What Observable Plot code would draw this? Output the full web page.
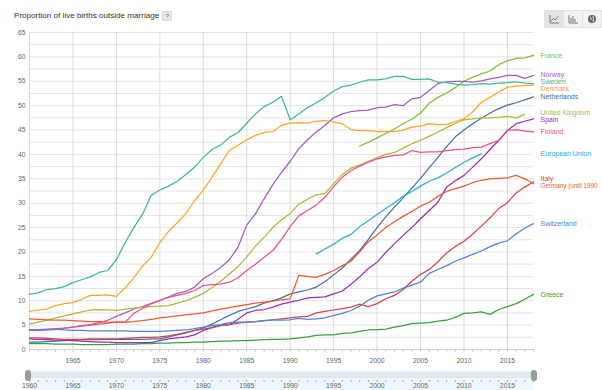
<!DOCTYPE html>
<html><head><meta charset="utf-8">
<script src="https://cdn.jsdelivr.net/npm/d3@7"></script>
<script src="https://cdn.jsdelivr.net/npm/@observablehq/plot@0.6"></script>
<style>
body{margin:0;width:602px;height:390px;position:relative;overflow:hidden;background:#fff;font-family:"Liberation Sans",Arial,sans-serif;}
#title{position:absolute;left:14px;top:11px;font-size:8.1px;color:#333;white-space:nowrap;}
#title .q{display:inline-block;width:8px;height:8px;line-height:8px;text-align:center;background:#e8e8e8;border:1px solid #ddd;color:#666;font-size:6px;margin-left:3px;vertical-align:middle;}
#tools{position:absolute;left:544px;top:10px;display:flex;}
#tools div{width:18px;height:16px;background:#f2f2f2;border:1px solid #e2e2e2;margin-right:-1px;display:flex;align-items:center;justify-content:center;}
#tools div.on{background:#e4e4e4;}
#main{position:absolute;left:0;top:0;}
#navbg{position:absolute;left:29px;top:370px;width:504px;height:20px;background:#eef7fb;}
#navtrack{position:absolute;left:29px;top:372px;width:504px;height:6px;background:#dfe8ec;}
#nav{position:absolute;left:0;top:370px;}
.handle{position:absolute;top:370px;width:6px;height:11px;background:#9a9a9a;border-radius:3px;}
</style></head>
<body>
<div id="title">Proportion of live births outside marriage<span class="q">?</span></div>
<div id="tools">
 <div class="on"><svg width="10" height="9"><path d="M1 0V8H10" stroke="#666" fill="none" stroke-width="0.9"/><path d="M2 6L4.5 3.5L6 5L9 1.5" stroke="#666" fill="none" stroke-width="0.9"/></svg></div>
 <div><svg width="10" height="9"><path d="M1 0V8H10M3 7V3M5 7V1M7 7V4" stroke="#666" fill="none" stroke-width="0.9"/></svg></div>
 <div><svg width="10" height="10"><circle cx="5" cy="5" r="4" fill="#666"/><path d="M3 3Q5 4 4 6M6 2Q7 5 6 8" stroke="#f2f2f2" fill="none" stroke-width="0.9"/></svg></div>
</div>
<div id="main"></div>
<div id="navbg"></div><div id="navtrack"></div>
<div id="nav"></div>
<div class="handle" style="left:25px"></div><div class="handle" style="left:531px"></div>
<script>
// ---- data ----
const countries = ["France","Norway","Sweden","Denmark","Netherlands","United Kingdom","Spain","Finland","European Union","Italy","Germany (until 1990 former territory of the FRG)","Switzerland","Greece"];
const seriesLabels = ["France","Norway","Sweden","Denmark","Netherlands","United Kingdom","Spain","Finland","European Union","Italy","Germany (until 1990","Switzerland","Greece"];
const startYears = [1998,1960,1960,1960,1960,1960,1960,1960,1993,1960,1960,1960,1960];
const france = [41.7,42.5,43.4,44.3,45.2,46.3,47.2,48.5,50.5,51.7,52.6,53.7,55.0,55.8,56.5,57.1,58.4,59.2,59.7,59.8,60.3];
const norway = [3.9,3.9,4.0,4.1,4.4,4.6,4.9,5.1,5.5,6.0, 6.8,7.5,8.3,8.8,9.4,10.0,10.8,11.5,11.9,12.8, 14.5,15.6,16.8,18.4,21.0,25.5,27.8,30.9,33.8,36.3, 38.6,41.2,43.0,44.6,46.0,47.5,48.3,48.8,49.0,49.1, 49.6,49.7,50.2,50.0,51.4,51.7,53.1,54.5,54.9,55.0, 55.0,54.8,55.1,55.5,55.8,56.2,56.2,55.6,56.2];
const sweden = [11.3,11.6,12.3,12.5,12.9,13.7,14.3,14.9,15.8,16.2, 18.4,21.9,25.0,27.7,31.6,32.7,33.5,34.5,35.9,37.4, 39.4,41.0,41.9,43.5,44.5,46.4,48.3,49.8,50.7,51.9, 47.1,48.3,49.6,50.6,51.7,53.0,53.9,54.2,54.8,55.3, 55.3,55.5,56.0,56.0,55.4,55.4,55.5,54.8,54.7,54.4, 54.2,54.3,54.5,54.4,54.6,54.7,54.9,54.6,54.5];
const denmark = [7.8,8.1,8.3,9.0,9.4,9.6,10.3,11.1,11.1,11.2, 10.9,12.6,14.7,17.1,18.9,21.9,24.2,26.0,27.9,30.5, 32.7,35.3,38.1,40.8,41.9,43.0,43.9,44.5,44.7,46.0, 46.4,46.5,46.4,46.8,47.0,46.6,46.3,45.1,44.9,44.9, 44.7,44.7,44.7,45.0,45.6,45.8,46.3,46.1,46.1,46.8, 47.3,48.7,50.7,51.7,52.8,53.8,54.0,54.1,54.2];
const netherlands = [1.5,1.5,1.6,1.7,1.8,1.9,2.0,2.0,2.0,2.1, 2.1,2.1,2.1,2.1,2.2,2.2,2.6,3.0,3.4,3.9, 4.4,5.2,6.1,7.0,7.8,8.3,8.8,9.5,10.0,10.6, 11.4,11.8,12.2,12.8,13.9,15.3,16.7,18.5,20.3,22.6, 25.0,27.2,29.2,31.1,33.1,35.1,37.3,39.4,41.6,43.6, 45.0,46.3,47.4,48.5,49.4,50.1,50.6,51.2,51.8];
const unitedKingdom = [5.2,5.6,6.0,6.5,6.9,7.3,7.7,8.1,8.2,8.1, 8.0,8.3,8.5,8.7,8.8,8.9,9.0,9.5,10.0,10.7, 11.5,12.7,14.0,15.5,17.0,19.0,21.2,23.0,25.0,26.6, 27.9,29.8,30.8,31.7,32.0,34.0,35.9,37.2,37.8,38.6, 39.3,40.0,40.4,41.3,42.2,42.9,43.7,44.6,45.5,46.4, 47.1,47.3,47.5,47.5,47.6,47.8,47.5,48.2];
const spain = [2.2,2.1,2.0,1.9,1.9,1.8,1.7,1.6,1.5,1.5, 1.4,1.4,1.4,1.4,1.4,1.8,2.2,2.4,2.6,3.0, 3.9,4.5,5.0,5.1,6.2,7.5,8.0,8.2,8.7,9.3, 9.7,10.1,10.6,10.7,10.8,11.4,12.0,13.4,14.9,16.6, 17.9,19.9,21.7,23.4,25.0,26.8,28.5,30.2,33.3,34.6, 35.7,37.4,39.1,41.0,42.9,44.9,46.3,46.8,47.3];
const finland = [3.9,4.0,4.1,4.3,4.4,4.6,4.8,5.0,5.2,5.4, 5.6,5.6,7.4,8.4,9.4,10.1,10.7,11.1,11.5,12.1, 13.1,13.3,13.4,13.8,14.7,16.2,17.5,18.9,20.3,22.6, 25.2,27.4,28.5,29.6,31.2,33.4,35.3,36.7,37.6,38.4, 39.1,39.5,39.8,39.9,40.8,40.4,40.5,40.5,40.8,41.0, 41.1,41.4,41.5,42.2,42.9,44.9,45.1,44.8,44.6];
const europeanUnion = [19.6,20.6,21.6,22.8,23.6,25.2,26.4,27.7,28.9,30.1,31.4,32.4,33.5,34.5,35.2,36.2,37.3,38.4,39.3,40.1];
const italy = [2.4,2.4,2.3,2.2,2.1,2.1,2.1,2.2,2.2,2.2, 2.2,2.3,2.4,2.5,2.5,2.6,2.8,3.1,3.5,3.9, 4.2,4.5,4.9,5.1,5.4,5.6,5.7,5.9,6.1,6.3, 6.5,6.7,6.8,7.5,7.8,8.1,8.4,8.7,9.3,8.8, 9.4,10.4,11.1,12.3,14.0,15.4,16.4,18.0,19.8,21.1, 22.2,23.7,25.3,27.0,28.9,30.1,32.1,33.3,34.4];
const germany = [6.3,6.2,6.1,6.0,6.0,5.9,5.8,5.7,5.7,5.6, 5.6,5.6,5.7,5.9,6.2,6.5,6.7,6.9,7.1,7.3, 7.5,7.9,8.3,8.6,8.9,9.2,9.5,9.7,9.9,10.2, 10.4,15.2,15.0,14.8,15.4,16.2,17.2,18.1,20.0,22.1, 23.5,25.0,26.2,27.3,28.3,29.4,30.2,31.4,32.4,33.0, 33.5,34.2,34.7,35.0,35.1,35.2,35.7,35.0,34.0];
const switzerland = [4.1,4.1,4.2,4.2,4.0,3.9,3.9,3.8,3.8,3.8, 3.8,3.8,3.7,3.7,3.7,3.7,3.8,3.9,4.0,4.3, 4.6,4.9,5.1,5.5,5.6,5.6,5.7,5.9,6.0,6.0, 6.1,6.4,6.2,6.3,6.5,7.0,7.4,8.0,8.9,10.1, 11.0,11.4,11.8,12.6,13.2,13.8,15.6,16.4,17.2,18.1, 18.8,19.5,20.2,21.1,21.8,22.3,23.7,24.9,25.8];
const greece = [1.2,1.2,1.2,1.1,1.1,1.1,1.0,1.0,1.0,1.0, 1.1,1.1,1.1,1.2,1.2,1.3,1.3,1.4,1.4,1.5, 1.5,1.6,1.7,1.7,1.8,1.8,1.9,2.0,2.1,2.1, 2.2,2.4,2.6,2.9,3.0,3.0,3.3,3.4,3.7,4.0, 4.1,4.2,4.6,4.9,5.3,5.4,5.5,5.8,6.0,6.6, 7.4,7.5,7.7,7.2,8.2,8.8,9.4,10.3,11.3];
const seriesValues = [france,norway,sweden,denmark,netherlands,unitedKingdom,spain,finland,europeanUnion,italy,germany,switzerland,greece];
const yTicks = [0,5,10,15,20,25,30,35,40,45,50,55,60,65];
const xTickLabels = [1965,1970,1975,1980,1985,1990,1995,2000,2005,2010,2015];
const navTickLabels = [1960,1965,1970,1975,1980,1985,1990,1995,2000,2005,2010,2015];

// ---- styles ----
const palette = ["#83bb36","#a45cbf","#3fb6a2","#f9a526","#4471a6","#b8b434","#9f2bb8","#e9558a","#29abe0","#cc4a44","#ee5b2d","#4f82db","#34a33a"];

// ---- build ----
const rows = countries.flatMap((name, k) => seriesValues[k].map((v, i) => ({name, year: startYears[k] + i, value: v})));
const ends = countries.map((name, k) => ({name, label: seriesLabels[k], v: seriesValues[k][seriesValues[k].length - 1]}));
const domainX = [d3.min(startYears), d3.max(rows, d => d.year)];
const domainY = [0, d3.max(yTicks)];
const mainH = 368, mT = 32, mB = 19;
const unitsPerPx = (domainY[1] - domainY[0]) / (mainH - mT - mB);
const gap = 7 * unitsPerPx;
// simple label de-overlap (cluster merge)
(function dodge(items){
  const sorted = items.slice().sort((a,b)=>b.v-a.v);
  let groups = sorted.map(d=>({items:[d], c:d.v}));
  let changed = true;
  while (changed) {
    changed = false;
    for (let i = 0; i < groups.length - 1; i++) {
      const a = groups[i], b = groups[i+1];
      const aLow = a.c - gap*(a.items.length-1)/2;
      const bHigh = b.c + gap*(b.items.length-1)/2;
      if (aLow - bHigh < gap) {
        const its = a.items.concat(b.items);
        groups.splice(i, 2, {items: its, c: d3.mean(its, d => d.v)});
        changed = true; break;
      }
    }
  }
  groups.forEach(g => g.items.forEach((d,i) => { d.ly = g.c + gap*((g.items.length-1)/2 - i); }));
})(ends);

const font = '"Liberation Sans", Arial, sans-serif';
const main = Plot.plot({
  width: 602, height: mainH,
  marginTop: mT, marginBottom: mB, marginLeft: 29, marginRight: 69,
  style: {fontFamily: font, fontSize: "6.8px", background: "transparent", color: "#666"},
  x: {domain: domainX},
  y: {domain: domainY},
  color: {domain: countries, range: palette},
  marks: [
    Plot.gridY(d3.range(domainY[0], domainY[1] + 0.01, 2.5), {stroke: "#e4e4e4", strokeOpacity: 1}),
    Plot.gridX(d3.range(domainX[0], 2016, 5), {stroke: "#dcdcdc", strokeOpacity: 1}),
    Plot.ruleY([0], {stroke: "#cfcfcf"}),
    Plot.axisX(d3.range(domainX[0], domainX[1] + 1), {tickSize: 3, stroke: "#cfcfcf", tickFormat: () => "", label: null}),
    Plot.axisX(xTickLabels, {tickSize: 0, tickPadding: 9, tickFormat: d => String(d), fill: "#666", label: null}),
    Plot.axisY(yTicks, {tickSize: 0, tickPadding: 4, fill: "#666", label: null}),
    Plot.line(rows, {x: "year", y: "value", z: "name", stroke: "name", strokeWidth: 1.25}),
    Plot.text(ends, {frameAnchor: "right", dx: 7, y: "ly", text: "label", fill: "name", textAnchor: "start",
      fontSize: d => d.label.length > 16 ? 6.3 : 7})
  ]
});
document.getElementById("main").appendChild(main);

const nav = Plot.plot({
  width: 602, height: 20,
  marginTop: 0, marginBottom: 10, marginLeft: 29, marginRight: 69,
  style: {fontFamily: font, fontSize: "6.8px", background: "transparent", color: "#777"},
  x: {domain: domainX},
  marks: [
    Plot.axisX(d3.range(domainX[0], domainX[1] + 1), {tickSize: 2, stroke: "#aaa", tickFormat: () => "", label: null}),
    Plot.axisX(navTickLabels, {tickSize: 0, tickPadding: 3, tickFormat: d => String(d), fill: "#666", label: null})
  ]
});
document.getElementById("nav").appendChild(nav);
</script>
</body></html>
